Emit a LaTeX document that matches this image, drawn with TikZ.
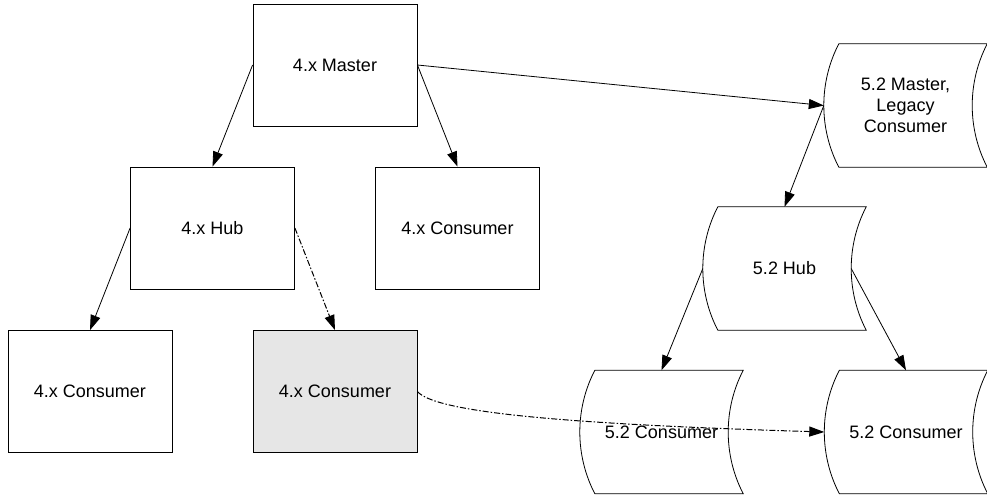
\documentclass[tikz,border=0pt]{standalone}
\usepackage{fontspec}
\setmainfont{Liberation Sans}
\usetikzlibrary{arrows.meta}
\newcommand\tapedraw[1]{%
  \draw[line width=0.8pt] ([xshift=15pt]#1.north west) -- (#1.north east)
    .. controls ([xshift=-20pt,yshift=-38.6pt]#1.north east) and ([xshift=-20pt,yshift=38.6pt]#1.south east) .. (#1.south east)
    -- ([xshift=15pt]#1.south west)
    .. controls ([xshift=-5pt,yshift=38.6pt]#1.south west) and ([xshift=-5pt,yshift=-38.6pt]#1.north west) .. ([xshift=15pt]#1.north west) -- cycle;}
\begin{document}
\begin{tikzpicture}[x=1pt,y=-1pt,
  lbl/.style={inner sep=0pt, font=\fontsize{18}{21}\selectfont, align=center},
  box/.style={lbl, draw, line width=0.8pt, minimum width=164pt, minimum height=122pt},
  tape/.style={lbl, minimum width=163pt, minimum height=123pt},
  conn/.style={line width=0.8pt, -{Triangle[length=15pt,width=10pt]}},
  dd/.style={conn, line width=1pt, dash pattern=on 6pt off 2pt on 1.5pt off 2pt}]
\useasboundingbox (0,0) rectangle (987,495);
% rectangles
\node[box] (m4) at (335,65) {4.x Master};
\node[box] (h4) at (212.5,228) {4.x Hub};
\node[box] (c4m) at (457.5,228) {4.x Consumer};
\node[box] (c4l) at (90,391.5) {4.x Consumer};
\node[box, fill={rgb,255:red,230;green,230;blue,230}] (c4g) at (335,391.5) {4.x Consumer};
% tapes
\node[tape] (m52) at (905.5,105.5) {5.2 Master,\\Legacy\\Consumer};
\node[tape] (h52) at (784.5,268.5) {5.2 Hub};
\node[tape] (c52a) at (661.5,432) {5.2 Consumer};
\node[tape] (c52b) at (906,432) {5.2 Consumer};
\tapedraw{m52}
\tapedraw{h52}
\tapedraw{c52a}
\tapedraw{c52b}
\coordinate (h52r) at ([xshift=-15pt]h52.east);
% connectors
\draw[conn] (m4.west) -- (h4.north);
\draw[conn] (m4.east) -- (c4m.north);
\draw[conn] (m4.east) -- (m52.west);
\draw[conn] (m52.west) -- (h52.north);
\draw[conn] (h4.west) -- (c4l.north);
\draw[dd] (h4.east) -- (c4g.north);
\draw[conn] (h52.west) -- (c52a.north);
\draw[conn] (h52r) -- (c52b.north);
\draw[dd] (c4g.east) .. controls (435,412) and (560,424) .. (c52b.west);
\end{tikzpicture}
\end{document}
